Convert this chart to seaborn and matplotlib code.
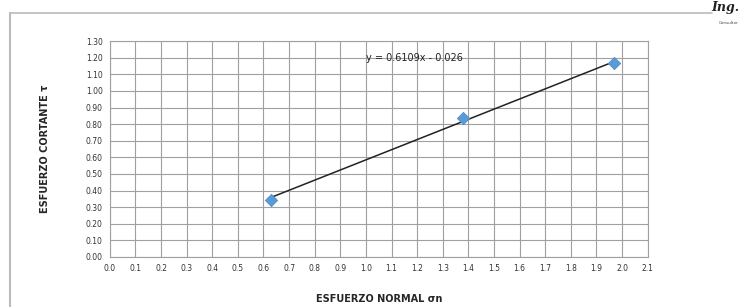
import numpy as np
import pandas as pd
import matplotlib.pyplot as plt
import seaborn as sns
from matplotlib.lines import Line2D

# data
esfuerzo_normal = [0.63, 1.38, 1.97]
esfuerzo_cortante = [0.345, 0.835, 1.17]
pendiente = 0.6109
intercepto = -0.026
x_ticks = [round(0.1 * i, 1) for i in range(22)]
y_ticks = [round(0.1 * i, 1) for i in range(14)]

df = pd.DataFrame({"sn": esfuerzo_normal, "tau": esfuerzo_cortante})
trend = pd.DataFrame({"sn": [min(esfuerzo_normal), max(esfuerzo_normal)]})
trend["tau"] = pendiente * trend["sn"] + intercepto

sns.set_style("white")
plt.rcParams["font.family"] = ["DejaVu Sans"]

fig = plt.figure(figsize=(7.47, 3.07), dpi=100)
ax = fig.add_axes([0.147, 0.163, 0.720, 0.703])

sns.lineplot(x="sn", y="tau", data=trend, ax=ax, color="#222222", linewidth=1.1, zorder=3)
sns.scatterplot(x="sn", y="tau", data=df, ax=ax, marker="D", s=40, color="#5B9BD5",
                edgecolor="#4A8AC8", linewidth=0.5, zorder=4)

ax.set_xlim(0, 2.1)
ax.set_ylim(0, 1.3)
ax.set_xticks(x_ticks)
ax.set_yticks(y_ticks)
ax.set_xticklabels([f"{v:.1f}" for v in x_ticks], fontsize=5.5, color="#333333")
ax.set_yticklabels([f"{v:.2f}" for v in y_ticks], fontsize=5.5, color="#333333")
ax.tick_params(axis="both", length=0, pad=5)
ax.grid(True, color="#a0a0a0", linewidth=0.8)
for s in ax.spines.values():
    s.set_color("#a0a0a0")
    s.set_linewidth(0.8)

ax.set_xlabel("ESFUERZO NORMAL σn", fontsize=7, fontweight="bold", labelpad=15)
ax.set_ylabel("ESFUERZO CORTANTE τ", fontsize=7, fontweight="bold", labelpad=26)
ax.text(1.19, 1.198, "y = 0.6109x - 0.026", fontsize=7, ha="center", va="center",
        color="#222222")

# outer chart frame
fig.add_artist(Line2D([0.013, 0.013], [0.0, 0.958], transform=fig.transFigure,
                      color="#bbbbbb", linewidth=1.5))
fig.add_artist(Line2D([0.013, 0.953], [0.958, 0.958], transform=fig.transFigure,
                      color="#bbbbbb", linewidth=1.2))
fig.text(0.952, 0.975, "Ing.", fontsize=9, fontweight="bold", style="italic",
         family="DejaVu Serif", ha="left", va="center", color="#222222")
fig.text(0.962, 0.925, "Consultor", fontsize=3, ha="left", va="center", color="#444444")

fig.savefig("out.png", dpi=100)
